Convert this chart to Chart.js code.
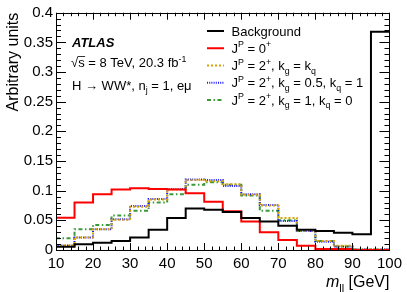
<!DOCTYPE html>
<html>
<head>
<meta charset="utf-8">
<script src="https://cdn.jsdelivr.net/npm/chart.js@4.4.1/dist/chart.umd.min.js"></script>
<style>
  html, body { margin: 0; padding: 0; background: #fff; }
</style>
</head>
<body>
<canvas id="myChart" width="407" height="292"></canvas>
<script>
// lower edge of every 5 GeV bin, last bin closes at xMax
var binLow = [10, 15, 20, 25, 30, 35, 40, 45, 50, 55, 60, 65, 70, 75, 80, 85, 90, 95];
var xMax = 100;

var background = [0.0056, 0.0096, 0.0124, 0.015, 0.021, 0.034, 0.054, 0.070, 0.068,
                  0.064, 0.054, 0.048, 0.041, 0.034, 0.032, 0.029, 0.0265, 0.368];
var spin0 = [0.0545, 0.080, 0.094, 0.102, 0.104, 0.103, 0.102, 0.0955, 0.0815,
             0.0655, 0.048, 0.030, 0.017, 0.007, 0.0018, 0.0015, 0, 0];
var spin2kgkq = [0.0075, 0.021, 0.035, 0.051, 0.073, 0.085, 0.102, 0.118, 0.116,
                 0.111, 0.093, 0.075, 0.054, 0.033, 0.015, 0.007, 0.001, 0.001];
var spin2kq1 = [0.0075, 0.021, 0.035, 0.052, 0.074, 0.086, 0.103, 0.119, 0.118,
                0.108, 0.094, 0.076, 0.049, 0.032, 0.014, 0.006, 0.001, 0.001];
var spin2kq0 = [0.0197, 0.035, 0.042, 0.058, 0.066, 0.080, 0.094, 0.110, 0.114,
                0.110, 0.092, 0.066, 0.050, 0.032, 0.015, 0.006, 0.001, 0.001];

var xTickValues = [10, 20, 30, 40, 50, 60, 70, 80, 90, 100];
var yTickValues = [0, 0.05, 0.1, 0.15, 0.2, 0.25, 0.3, 0.35, 0.4];

// legend text, pieces marked sup/sub get raised or lowered
var legendLabels = [
  [{ t: "Background" }],
  [{ t: "J" }, { t: "P", sup: 1 }, { t: " = 0" }, { t: "+", sup: 1 }],
  [{ t: "J" }, { t: "P", sup: 1 }, { t: " = 2" }, { t: "+", sup: 1 }, { t: ", k" }, { t: "g", sub: 1 },
   { t: " = k" }, { t: "q", sub: 1 }],
  [{ t: "J" }, { t: "P", sup: 1 }, { t: " = 2" }, { t: "+", sup: 1 }, { t: ", k" }, { t: "g", sub: 1 },
   { t: " = 0.5, k" }, { t: "q", sub: 1 }, { t: " = 1" }],
  [{ t: "J" }, { t: "P", sup: 1 }, { t: " = 2" }, { t: "+", sup: 1 }, { t: ", k" }, { t: "g", sub: 1 },
   { t: " = 1, k" }, { t: "q", sub: 1 }, { t: " = 0" }]
];

var FONT = '"Liberation Sans", Arial, sans-serif';

function histPoints(values) {
  var pts = binLow.map(function (x, i) { return { x: x, y: values[i] }; });
  pts.push({ x: xMax, y: values[values.length - 1] });
  return pts;
}

function drawRich(ctx, parts, x, y, size) {
  parts.forEach(function (p) {
    var fs = p.sub || p.sup ? size * 0.68 : size;
    var dy = p.sub ? size * 0.3 : p.sup ? -size * 0.42 : 0;
    ctx.font = (p.style || "") + " " + fs + "px " + FONT;
    ctx.fillText(p.t, x, y + dy);
    x += ctx.measureText(p.t).width;
  });
  return x;
}

var decor = {
  id: "decor",
  afterDatasetsDraw: function (chart) {
    var ctx = chart.ctx;
    var a = chart.chartArea;
    var xs = chart.scales.x, ys = chart.scales.y;
    ctx.save();
    ctx.strokeStyle = "#000";
    ctx.lineWidth = 1;
    ctx.strokeRect(Math.round(a.left) + 0.5, Math.round(a.top) + 0.5,
                   Math.round(a.right - a.left), Math.round(a.bottom - a.top));
    ctx.beginPath();
    // inward ticks, y axis every 0.01, x axis every 2
    for (var i = 0; i <= 40; i++) {
      var py = Math.round(ys.getPixelForValue(i * 0.01)) + 0.5;
      var len = i % 5 === 0 ? 10 : 5;
      ctx.moveTo(a.left, py); ctx.lineTo(a.left + len, py);
      ctx.moveTo(a.right, py); ctx.lineTo(a.right - len, py);
    }
    for (var v = 10; v <= 100; v += 2) {
      var px = Math.round(xs.getPixelForValue(v)) + 0.5;
      var l2 = v % 10 === 0 ? 7 : 3.5;
      ctx.moveTo(px, a.bottom); ctx.lineTo(px, a.bottom - l2);
      ctx.moveTo(px, a.top); ctx.lineTo(px, a.top + l2);
    }
    ctx.stroke();
    ctx.restore();
  },
  afterDraw: function (chart) {
    var ctx = chart.ctx;
    var a = chart.chartArea;
    ctx.save();
    ctx.fillStyle = "#000";
    ctx.textBaseline = "alphabetic";

    // ATLAS label block
    ctx.font = "italic bold 13px " + FONT;
    ctx.fillText("ATLAS", 72, 46.5);

    ctx.font = "13px " + FONT;
    ctx.fillText("\u221A", 71, 67);
    var sx = 71 + ctx.measureText("\u221A").width;
    var ex = sx + ctx.measureText("s").width;
    ctx.beginPath();
    ctx.lineWidth = 0.8;
    ctx.strokeStyle = "#000";
    ctx.moveTo(sx - 0.5, 56.5); ctx.lineTo(ex + 0.5, 56.5);
    ctx.stroke();
    drawRich(ctx, [{ t: "s = 8 TeV, 20.3 fb" }, { t: "-1", sup: 1 }], sx, 67, 13);

    drawRich(ctx, [{ t: "H \u2192 WW*, n" }, { t: "j", sub: 1 }, { t: " = 1, e\u03BC" }], 72, 89.5, 13);

    // legend
    chart.data.datasets.forEach(function (ds, i) {
      var cy = 31 + 17.25 * i;
      ctx.beginPath();
      ctx.strokeStyle = ds.borderColor;
      ctx.lineWidth = ds.borderWidth;
      ctx.setLineDash(ds.borderDash || []);
      ctx.moveTo(207, cy); ctx.lineTo(224, cy);
      ctx.stroke();
      ctx.setLineDash([]);
      drawRich(ctx, legendLabels[i], 231.5, cy + 4.5, 13);
    });

    // x axis title, right aligned
    var parts = [{ t: "m", style: "italic" }, { t: "ll", sub: 1 }, { t: " [GeV]" }];
    var w = 0;
    parts.forEach(function (p) {
      var fs = p.sub ? 16 * 0.68 : 16;
      ctx.font = (p.style || "") + " " + fs + "px " + FONT;
      w += ctx.measureText(p.t).width;
    });
    drawRich(ctx, parts, a.right - w, 287, 16);
    ctx.restore();
  }
};

var ctx = document.getElementById("myChart").getContext("2d");
var chart = new Chart(ctx, {
  type: "line",
  data: {
    datasets: [
      { label: "Background", data: histPoints(background), borderColor: "#000000", borderWidth: 2 },
      { label: "JP = 0+", data: histPoints(spin0), borderColor: "#ff0000", borderWidth: 2 },
      { label: "JP = 2+, kg = kq", data: histPoints(spin2kgkq), borderColor: "#d9a000", borderWidth: 2,
        borderDash: [2, 2] },
      { label: "JP = 2+, kg = 0.5, kq = 1", data: histPoints(spin2kq1), borderColor: "#1a1aff", borderWidth: 2,
        borderDash: [1, 1.2] },
      { label: "JP = 2+, kg = 1, kq = 0", data: histPoints(spin2kq0), borderColor: "#3a9a3a", borderWidth: 2,
        borderDash: [4, 2.5, 1.5, 2.5] }
    ]
  },
  options: {
    responsive: false,
    animation: false,
    events: [],
    layout: { padding: { left: 0, right: 17, top: 12.7, bottom: 0 } },
    elements: { point: { radius: 0 }, line: { stepped: true, fill: false, tension: 0 } },
    plugins: { legend: { display: false }, tooltip: { enabled: false } },
    scales: {
      x: {
        type: "linear",
        min: 10,
        max: 100,
        grid: { display: false, drawTicks: false },
        border: { display: false },
        afterBuildTicks: function (s) { s.ticks = xTickValues.map(function (v) { return { value: v }; }); },
        afterFit: function (s) { s.height = 42; },
        ticks: { padding: 5, maxRotation: 0, autoSkip: false, color: "#000", font: { family: FONT, size: 15 } }
      },
      y: {
        min: 0,
        max: 0.4,
        grid: { display: false, drawTicks: false },
        border: { display: false },
        afterBuildTicks: function (s) { s.ticks = yTickValues.map(function (v) { return { value: v }; }); },
        afterFit: function (s) { s.width = 56; },
        title: { display: true, text: "Arbitrary units", align: "end", color: "#000",
                 font: { family: FONT, size: 16 }, padding: { top: 4, bottom: 0 } },
        ticks: {
          padding: 3, color: "#000", font: { family: FONT, size: 15 },
          callback: function (v) { return String(+Number(v).toFixed(2)); }
        }
      }
    }
  },
  plugins: [decor]
});
</script>
</body>
</html>
